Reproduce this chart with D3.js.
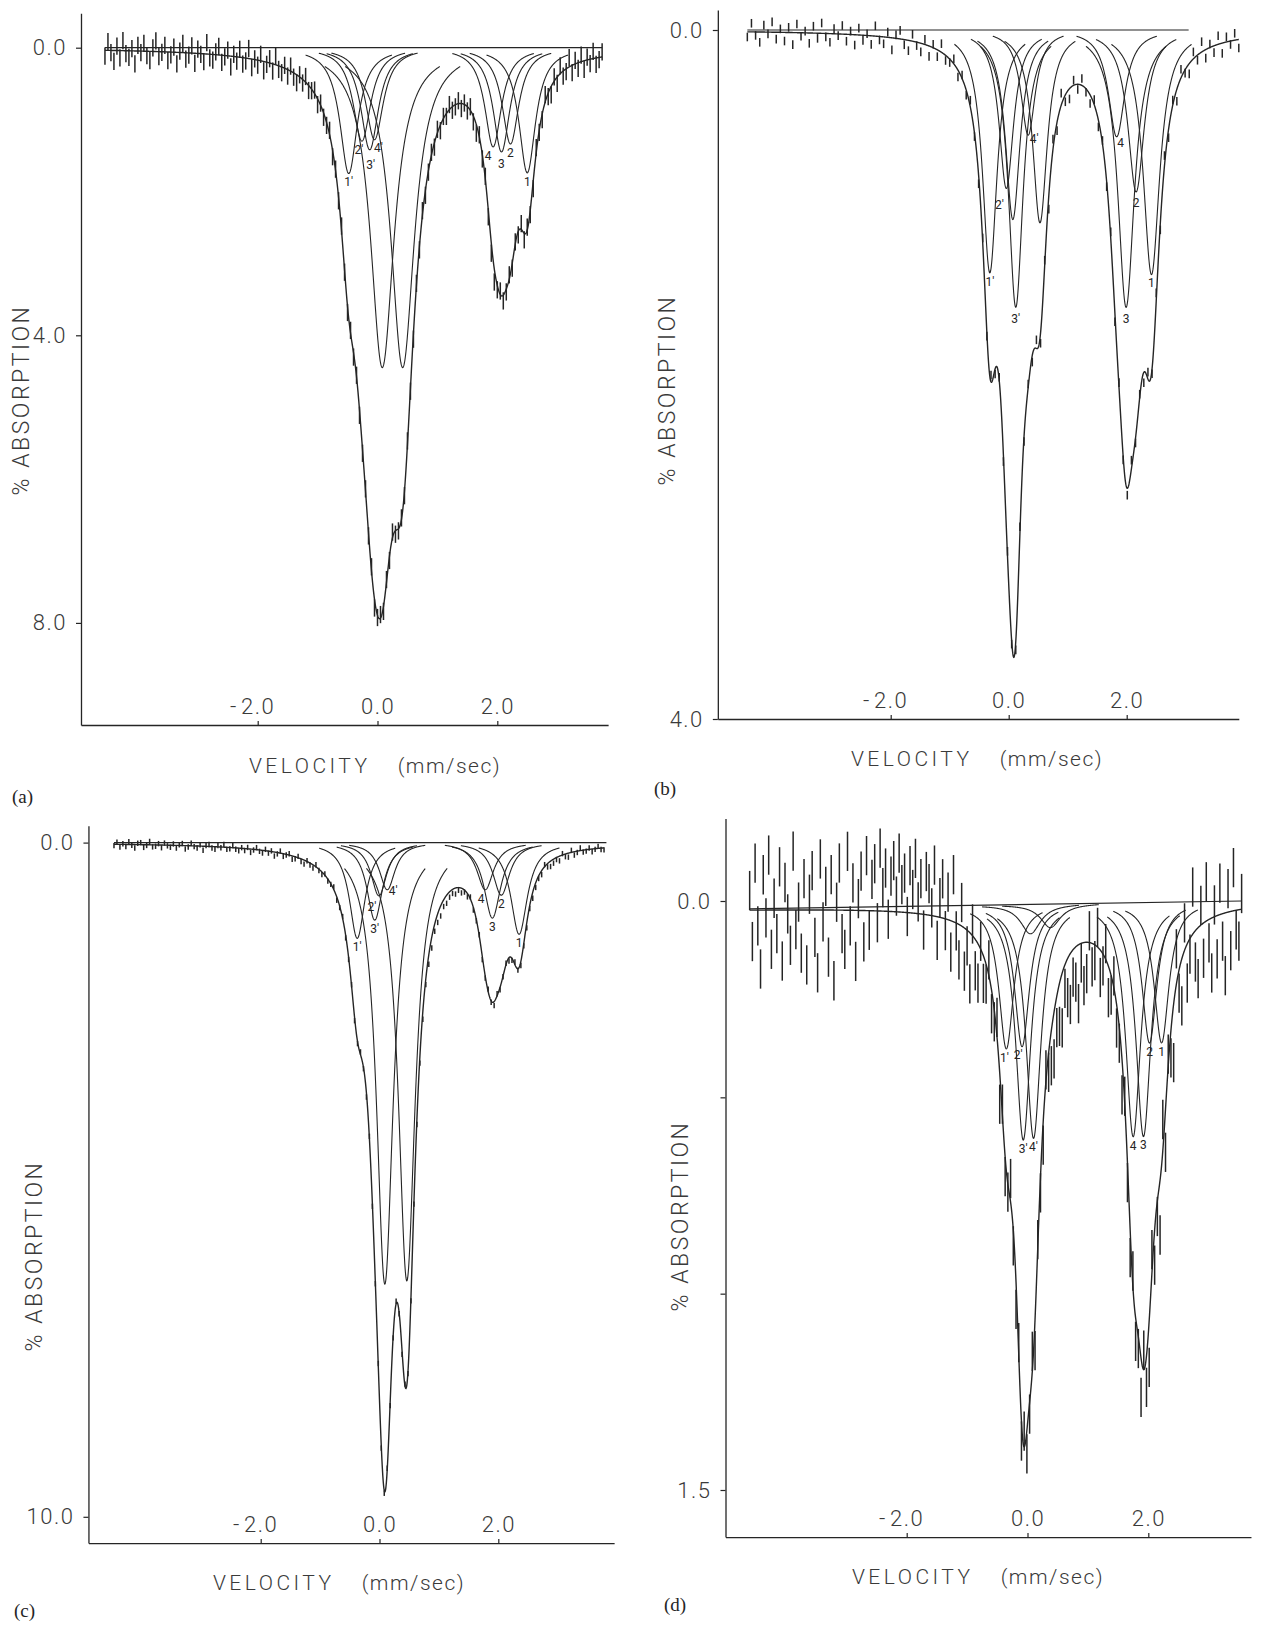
<!DOCTYPE html>
<html>
<head>
<meta charset="utf-8">
<script src="https://cdn.jsdelivr.net/npm/d3@7"></script>
<style>
  body { margin: 0; background: #fff; }
  svg { display: block; }
</style>
</head>
<body>
<script>
/**
 * Mossbauer spectra, panels (a)-(d)
 */

const W = 1267, H = 1627;
const INK  = '#252525';
const GREY = '#3a3a3a';
const FONT = "Roboto, 'Open Sans', sans-serif";

// ---------------------------------------------------------------
// DATA
// component lines: centre (mm/sec), depth (% absorption), half width (mm/sec)
const A_CENTER = [-0.48, -0.26, -0.13, -0.05, 0.08, 0.42, 1.93, 2.07, 2.22, 2.50];
const A_DEPTH  = [1.75, 1.30, 1.42, 1.28, 4.45, 4.45, 1.38, 1.45, 1.34, 1.74];
const A_WIDTH  = [0.18, 0.18, 0.18, 0.18, 0.24, 0.24, 0.17, 0.17, 0.17, 0.17];
const A_LABEL  = ['1′', '2′', '3′', '4′', '', '', '4', '3', '2', '1'];

const B_CENTER = [-0.32, -0.04, 0.07, 0.12, 0.33, 0.53, 1.83, 1.99, 2.16, 2.42];
const B_DEPTH  = [1.41, 0.92, 1.10, 1.61, 0.61, 1.12, 0.62, 1.61, 0.94, 1.42];
const B_WIDTH  = [0.15, 0.15, 0.15, 0.15, 0.15, 0.15, 0.17, 0.17, 0.17, 0.17];
const B_LABEL  = ['1′', '2′', '', '3′', '4′', '', '4', '3', '2', '1'];

const C_CENTER = [-0.375, -0.01, -0.08, 0.13, 0.09, 0.46, 1.78, 1.90, 2.05, 2.35];
const C_DEPTH  = [1.42, 0.79, 1.15, 0.70, 6.55, 6.50, 0.70, 1.12, 0.78, 1.36];
const C_WIDTH  = [0.16, 0.16, 0.16, 0.16, 0.17, 0.17, 0.17, 0.17, 0.17, 0.17];
const C_LABEL  = ['1′', '2′', '3′', '4′', '', '', '4', '3', '2', '1'];

const D_CENTER = [-0.35, -0.09, -0.07, 0.10, 0.05, 0.38, 1.75, 1.92, 2.02, 2.22];
const D_DEPTH  = [0.367, 0.362, 0.600, 0.596, 0.075, 0.060, 0.596, 0.596, 0.358, 0.358];
const D_WIDTH  = [0.15, 0.15, 0.15, 0.15, 0.20, 0.20, 0.15, 0.15, 0.15, 0.15];
const D_LABEL  = ['1′', '2′', '3′', '4′', '', '', '4', '3', '2', '1'];

// baseline end points [velocity, % absorption]
const A_BASE = [[-4.55, 0], [3.75, 0]];
const B_BASE = [[-4.43, 0], [3.05, 0]];
const C_BASE = [[-4.47, 0], [3.82, 0]];
const D_BASE = [[-4.60, 0.02], [3.55, 0]];

// channel grid: first velocity, channel step, error (half bar, %)
const A_CHAN = [-4.55, 0.05, 0.12];
const B_CHAN = [-4.43, 0.07, 0.025];
const C_CHAN = [-4.47, 0.05, 0.04];
const D_CHAN = [-4.60, 0.045, 0.05];

// measured points: offset from fitted curve, in 0.01 % absorption
const A_RES = [
  8,-12,3,15,-6,10,-14,4,9,-3,18,-8,2,-11,6,13,-5,-15,7,1,
  -9,12,4,-7,16,-2,-13,9,3,-10,14,-6,1,11,-16,5,8,-4,-12,10,
  2,-8,15,-3,6,-11,9,4,-14,12,-1,7,-9,13,3,-6,10,-12,5,8,
  -4,9,-7,6,11,-3,5,-8,7,2,-5,8,-3,6,4,-6,9,-2,5,-7,
  3,8,-4,6,-2,7,5,-3,4,-6,12,3,-5,7,-4,6,-8,5,3,-2,
  6,-5,4,8,-3,5,-6,7,2,-4,6,-5,8,-3,4,-7,5,3,-4,7,
  -2,6,-5,8,12,-3,6,-4,9,14,18,6,-5,8,4,-6,7,-3,5,-8,
  9,-4,6,11,-7,3,8,-10,5,12,-6,9,-11,7,4,-13,10,-5,8,-9,
  12,-4,6,-10,9,3,-7
];
const B_RES = [
  3,-5,2,6,-4,1,-6,4,-2,5,-3,7,-5,2,-1,6,-4,3,-6,2,
  5,-3,1,-5,4,-2,6,-4,3,-1,5,-6,2,4,-3,7,-2,-5,3,6,
  -4,2,5,-3,6,-2,4,-5,3,2,-3,4,-2,3,-4,2,5,-3,2,-4,
  3,-2,4,-3,2,5,-4,3,-2,4,-5,6,-3,8,-6,5,-7,4,6,-3,
  3,-4,2,5,-3,4,-2,3,-4,5,-3,2,4,-5,3,-2,6,-4,3,-5,
  4,-6,5,-3,7,-5,2,6,-4,3,-6,5,-2,4,-5,6,-3,2,-4,5
];
const C_RES = [
  2,-3,4,-1,3,-4,1,5,-2,-3,4,1,-5,3,2,-2,4,-3,1,3,
  -2,4,-1,-3,5,2,-4,1,3,-2,6,-1,-3,2,4,-2,1,-4,3,2,
  -3,2,4,-1,3,-2,5,1,-3,2,4,-2,3,-1,6,2,-3,4,1,-2,
  5,3,-2,4,6,-1,3,5,-3,2,4,-2,3,1,-4,5,2,-3,4,3,
  -2,5,3,-4,2,6,-3,4,2,-5,3,4,-2,6,3,-4,2,5,-3,4,
  6,3,8,10,12,9,14,16,11,13,15,10,12,8,6,9,4,7,3,5,
  -3,4,2,-2,5,3,-4,2,6,-3,4,1,-2,5,3,-4,2,6,4,8,
  5,9,7,4,6,-3,5,8,6,3,7,-2,4,6,-3,5,2,-4,3,2,
  -2,4,1,-3,2,3
];
const D_RES = [
  -5,8,-12,4,15,-9,2,-14,10,-3,6,-11,13,-7,1,9,-15,5,-2,11,
  -8,14,-4,-10,7,16,-13,3,-6,12,-9,18,-2,-12,6,10,-15,4,-7,13,
  -3,-10,8,-14,5,-8,-12,3,-16,-6,-11,2,-9,-13,-4,-15,-7,-10,1,-12,
  -6,-14,-3,-9,4,-11,-8,-2,-13,6,-5,-10,3,-7,8,-12,2,9,-6,11,
  4,13,-3,8,10,-2,7,5,-4,6,3,-5,8,-3,5,2,-6,4,7,-3,
  5,-4,6,3,-5,8,-2,4,6,-3,5,9,12,8,11,14,6,10,13,7,
  9,15,5,11,8,-3,6,4,-5,7,3,-4,8,5,-3,6,4,9,-2,5,
  7,-4,6,3,10,-5,8,12,-6,9,4,14,-8,11,-3,7,15,-9,6,12,
  -7,10,4,-12,8,13,-5,9,-10,6,14,-3,11,-8,7,16,-6,10,-11,5,
  8,-4
];

// axis ticks
const X_TICKS   = [-2, 0, 2];
const A_YTICKS  = [0, 4, 8];
const B_YTICKS  = [0, 4];
const C_YTICKS  = [0, 10];
const D_YTICKS  = [0, 0.5, 1.0, 1.5];
const D_YLABELS = [0, 1.5];

// ---------------------------------------------------------------
// LAYOUT (pixel anchors of the -2/+2 ticks and of two y ticks)
const LAYOUT = {
  a: { xPx: [257.7, 497.3], yPx: [47.7, 622.9], yKnown: 8,   axisV: [-4.95, 3.85], axisP: [-0.48, 9.42],
       vel: [375, 773], tag: [12, 803], ylab: [21, 400] },
  b: { xPx: [890.7, 1126.7], yPx: [30, 719],    yKnown: 4,   axisV: [-4.93, 3.90], axisP: [-0.116, 4.0],
       vel: [977, 766], tag: [654, 795], ylab: [667, 390] },
  c: { xPx: [260.7, 498.3], yPx: [842.6, 1516.8], yKnown: 10, axisV: [-4.90, 3.95], axisP: [-0.25, 10.39],
       vel: [339, 1590], tag: [14, 1617], ylab: [34, 1256] },
  d: { xPx: [906.7, 1148.3], yPx: [901, 1490],  yKnown: 1.5, axisV: [-5.00, 3.70], axisP: [-0.21, 1.62],
       vel: [978, 1584], tag: [664, 1611], ylab: [680, 1216] }
};

// small nudges for crowded component labels [dx, dy]
const NUDGE = {
  a: { 1: [-3, 0], 2: [1, 6], 3: [4, -1], 6: [-5, 0], 7: [0, 3] },
  b: { 1: [-7, 8], 3: [0, 3], 4: [6, -5], 6: [4, -3], 7: [0, 3], 8: [0, 2] },
  c: { 1: [-7, 2], 3: [6, -8], 6: [-4, 0] },
  d: { 0: [-2, 0], 1: [-4, 0] }
};

const panels = [
  { id: 'a', center: A_CENTER, depth: A_DEPTH, width: A_WIDTH, label: A_LABEL, base: A_BASE,
    chan: A_CHAN, res: A_RES, yticks: A_YTICKS, ylabels: A_YTICKS },
  { id: 'b', center: B_CENTER, depth: B_DEPTH, width: B_WIDTH, label: B_LABEL, base: B_BASE,
    chan: B_CHAN, res: B_RES, yticks: B_YTICKS, ylabels: B_YTICKS },
  { id: 'c', center: C_CENTER, depth: C_DEPTH, width: C_WIDTH, label: C_LABEL, base: C_BASE,
    chan: C_CHAN, res: C_RES, yticks: C_YTICKS, ylabels: C_YTICKS },
  { id: 'd', center: D_CENTER, depth: D_DEPTH, width: D_WIDTH, label: D_LABEL, base: D_BASE,
    chan: D_CHAN, res: D_RES, yticks: D_YTICKS, ylabels: D_YLABELS }
];


// SVG
const svg = d3.select('body').append('svg')
  .attr('width', W)
  .attr('height', H);

svg.append('rect')
  .attr('width', W)
  .attr('height', H)
  .attr('fill', '#fff');

panels.forEach(drawPanel);


function drawPanel(p) {
  const L = p.id && LAYOUT[p.id];

  // scales: same linear map, domain stretched to the drawn axis length
  const x0 = d3.scaleLinear().domain([-2, 2]).range(L.xPx);
  const y0 = d3.scaleLinear().domain([0, L.yKnown]).range(L.yPx);
  const x = d3.scaleLinear().domain(L.axisV).range(L.axisV.map(x0));
  const y = d3.scaleLinear().domain(L.axisP).range(L.axisP.map(y0));

  const baseAt = d3.scaleLinear()
    .domain(p.base.map(d => d[0]))
    .range(p.base.map(d => d[1]));

  const comps = p.center.map((c, i) => ({ c: c, d: p.depth[i], w: p.width[i], label: p.label[i], i: i }));
  const lor = (v, k) => { const t = (v - k.c) / k.w; return k.d / (1 + t * t); };
  const fit = v => baseAt(v) + d3.sum(comps, k => lor(v, k));

  const [vStart, step, err] = p.chan;
  const vEnd = vStart + (p.res.length - 1) * step;

  const g = svg.append('g').attr('class', 'panel-' + p.id);
  const line = d3.line().x(d => x(d[0])).y(d => y(d[1]));

  // Axes
  const xAxis = g.append('g')
    .attr('transform', `translate(0, ${y(L.axisP[1])})`)
    .call(d3.axisTop(x)
      .tickValues(X_TICKS)
      .tickSize(4)
      .tickSizeOuter(0)
      .tickPadding(7)
      .tickFormat(d => d3.format('.1f')(Math.abs(d))));
  xAxis.select('.domain').attr('stroke', INK).attr('stroke-width', 1.3);
  xAxis.selectAll('line').attr('stroke', INK).attr('stroke-width', 1.2);
  xAxis.selectAll('text')
    .attr('font-family', FONT)
    .attr('font-weight', 300)
    .attr('font-size', '22px')
    .attr('letter-spacing', '1.5px')
    .attr('fill', GREY);
  // minus signs sit a little apart from the digits
  xAxis.selectAll('.tick').filter(d => d < 0)
    .append('text')
    .attr('x', -22)
    .attr('y', -11)
    .attr('text-anchor', 'end')
    .attr('font-family', FONT)
    .attr('font-weight', 300)
    .attr('font-size', '22px')
    .attr('fill', GREY)
    .text('-');

  const yAxis = g.append('g')
    .attr('transform', `translate(${x(L.axisV[0])}, 0)`)
    .call(d3.axisLeft(y)
      .tickValues(p.yticks)
      .tickSize(5)
      .tickSizeOuter(0)
      .tickPadding(9)
      .tickFormat(d => p.ylabels.includes(d) ? d3.format('.1f')(d) : ''));
  yAxis.select('.domain').attr('stroke', INK).attr('stroke-width', 1.3);
  yAxis.selectAll('line').attr('stroke', INK).attr('stroke-width', 1.2);
  yAxis.selectAll('text')
    .attr('font-family', FONT)
    .attr('font-weight', 300)
    .attr('font-size', '22px')
    .attr('letter-spacing', '1.5px')
    .attr('fill', GREY);

  // Baseline
  g.append('path')
    .attr('d', line(p.base))
    .attr('fill', 'none')
    .attr('stroke', INK)
    .attr('stroke-width', 1.2);

  // Component lines
  g.selectAll('path.comp')
    .data(comps)
    .join('path')
    .attr('class', 'comp')
    .attr('d', k => line(d3.range(k.c - 4 * k.w, k.c + 4 * k.w + 1e-9, 0.005)
      .map(v => [v, baseAt(v) + lor(v, k)])))
    .attr('fill', 'none')
    .attr('stroke', INK)
    .attr('stroke-width', 1.1);

  g.selectAll('text.comp-label')
    .data(comps.filter(k => k.label))
    .join('text')
    .attr('class', 'comp-label')
    .attr('x', k => x(k.c) + ((NUDGE[p.id][k.i] || [0, 0])[0]))
    .attr('y', k => y(baseAt(k.c) + k.d) + 4 + ((NUDGE[p.id][k.i] || [0, 0])[1]))
    .attr('text-anchor', 'middle')
    .attr('dominant-baseline', 'hanging')
    .attr('font-family', FONT)
    .attr('font-size', '12px')
    .attr('fill', INK)
    .text(k => k.label);

  // Fitted envelope
  g.append('path')
    .attr('d', line(d3.range(vStart, vEnd + 1e-9, 0.005).map(v => [v, fit(v)])))
    .attr('fill', 'none')
    .attr('stroke', INK)
    .attr('stroke-width', 1.4);

  // Measured points with error bars
  const pts = p.res.map((r, i) => {
    const v = vStart + i * step;
    return { v: v, a: fit(v) + r / 100 };
  });
  g.selectAll('line.bar')
    .data(pts)
    .join('line')
    .attr('class', 'bar')
    .attr('x1', d => x(d.v))
    .attr('x2', d => x(d.v))
    .attr('y1', d => y(d.a - err))
    .attr('y2', d => y(d.a + err))
    .attr('stroke', INK)
    .attr('stroke-width', 1.5);

  // Titles
  const vel = g.append('text')
    .attr('x', L.vel[0])
    .attr('y', L.vel[1])
    .attr('text-anchor', 'middle')
    .attr('font-family', FONT)
    .attr('font-weight', 300)
    .attr('font-size', '21px')
    .attr('fill', GREY);
  vel.append('tspan').attr('letter-spacing', '3.5px').text('VELOCITY');
  vel.append('tspan').attr('dx', 27).attr('letter-spacing', '1.5px').text('(mm/sec)');

  g.append('text')
    .attr('transform', `translate(${L.ylab[0]}, ${L.ylab[1]}) rotate(-90)`)
    .attr('text-anchor', 'middle')
    .attr('dominant-baseline', 'central')
    .attr('font-family', FONT)
    .attr('font-weight', 300)
    .attr('font-size', '23px')
    .attr('letter-spacing', '2.5px')
    .attr('fill', GREY)
    .text('% ABSORPTION');

  g.append('text')
    .attr('x', L.tag[0])
    .attr('y', L.tag[1])
    .attr('font-family', "'Liberation Serif', 'DejaVu Serif', serif")
    .attr('font-size', '19px')
    .attr('fill', INK)
    .text('(' + p.id + ')');
}
</script>
</body>
</html>
